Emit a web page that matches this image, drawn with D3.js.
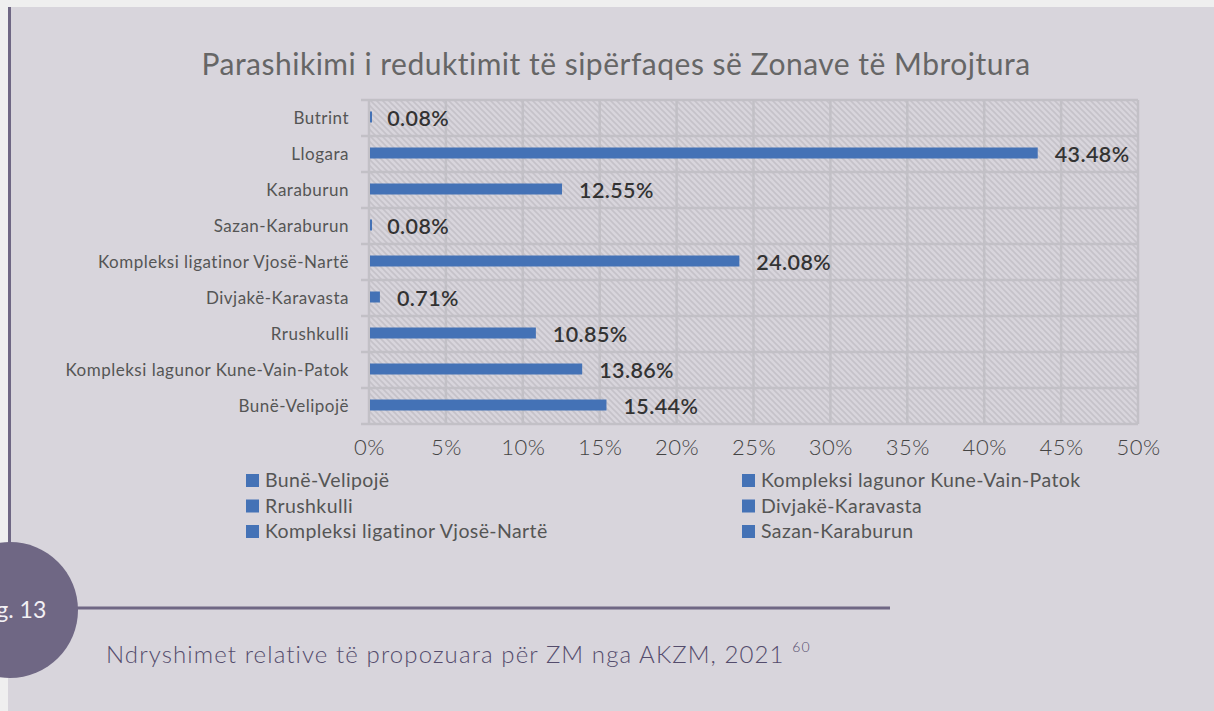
<!DOCTYPE html>
<html>
<head>
<meta charset="utf-8">
<script src="https://d3js.org/d3.v7.min.js"></script>
<style>
  body { margin: 0; background: #efefef; }
  svg { display: block; }
</style>
</head>
<body>
<div id="chart"></div>
<script>
// data, top row first
const categories = ["Butrint", "Llogara", "Karaburun", "Sazan-Karaburun",
  "Kompleksi ligatinor Vjosë-Nartë", "Divjakë-Karavasta", "Rrushkulli",
  "Kompleksi lagunor Kune-Vain-Patok", "Bunë-Velipojë"];
const values = [0.08, 43.48, 12.55, 0.08, 24.08, 0.71, 10.85, 13.86, 15.44];
const ticks = [0, 5, 10, 15, 20, 25, 30, 35, 40, 45, 50];
const legendItems = ["Bunë-Velipojë", "Kompleksi lagunor Kune-Vain-Patok",
  "Rrushkulli", "Divjakë-Karavasta",
  "Kompleksi ligatinor Vjosë-Nartë", "Sazan-Karaburun"];

const W = 1214, H = 711;
const blue = "#4472b6";
const font = "Lato, sans-serif";
const svg = d3.select("#chart").append("svg")
  .attr("width", W).attr("height", H);

// panel
svg.append("rect").attr("x", 8).attr("y", 7).attr("width", W - 8).attr("height", H - 7)
  .attr("fill", "#d8d5dc");
svg.append("rect").attr("x", 8).attr("y", 7).attr("width", 3).attr("height", 540)
  .attr("fill", "#6f6784");

// hatch pattern
const defs = svg.append("defs");
const pat = defs.append("pattern").attr("id", "hatch")
  .attr("patternUnits", "userSpaceOnUse").attr("width", 6).attr("height", 6);
pat.append("rect").attr("width", 6).attr("height", 6).attr("fill", "#d8d5dc");
pat.append("path").attr("d", "M-1,-1 L7,7 M-1,5 L1,7 M5,-1 L7,1")
  .attr("stroke", "#c5c2c9").attr("stroke-width", 1.6);

const x = d3.scaleLinear().domain([0, 50]).range([369, 1138]);
const y = d3.scaleBand().domain(categories).range([100, 424]);

// title
svg.append("text").attr("x", 616).attr("y", 75).attr("text-anchor", "middle")
  .attr("font-family", font).attr("font-size", 30).attr("letter-spacing", 0.5)
  .attr("fill", "#666").text("Parashikimi i reduktimit të sipërfaqes së Zonave të Mbrojtura");

// plot background
svg.append("rect").attr("x", x(0)).attr("y", 100)
  .attr("width", x(50) - x(0)).attr("height", 324).attr("fill", "url(#hatch)");

// grid
const grid = svg.append("g").attr("stroke", "#c2c0c6").attr("stroke-width", 2.5);
grid.selectAll("line.v").data(ticks).join("line")
  .attr("x1", d => x(d)).attr("x2", d => x(d)).attr("y1", 100).attr("y2", 424);
grid.selectAll("line.h").data(categories.concat(["end"])).join("line")
  .attr("x1", x(0) - 8).attr("x2", x(50))
  .attr("y1", (d, i) => 100 + i * y.step()).attr("y2", (d, i) => 100 + i * y.step());

// bars
const barH = 11;
svg.append("g").selectAll("rect").data(values).join("rect")
  .attr("x", x(0) + 1)
  .attr("y", (d, i) => y(categories[i]) + y.bandwidth() / 2 - barH / 2 - 1)
  .attr("width", d => Math.max(2, x(d) - x(0) - 1))
  .attr("height", barH).attr("fill", blue);

// value labels
svg.append("g").selectAll("text").data(values).join("text")
  .attr("x", d => x(d) + 17)
  .attr("y", (d, i) => y(categories[i]) + y.bandwidth() / 2 + 8)
  .attr("font-family", font).attr("font-size", 21.5).attr("font-weight", 600)
  .attr("letter-spacing", 0.4)
  .attr("fill", "#333").text(d => d.toFixed(2) + "%");

// category labels
svg.append("g").selectAll("text").data(categories).join("text")
  .attr("x", 349).attr("y", d => y(d) + y.bandwidth() / 2 + 6)
  .attr("text-anchor", "end")
  .attr("font-family", font).attr("font-size", 17).attr("letter-spacing", 0.5)
  .attr("fill", "#555").text(d => d);

// x axis tick labels
const xAxis = svg.append("g").attr("transform", "translate(0,424)")
  .call(d3.axisBottom(x).tickValues(ticks).tickSize(0).tickPadding(15)
    .tickFormat(d => d + "%"));
xAxis.select(".domain").remove();
xAxis.selectAll("text").attr("font-family", font).attr("font-weight", 300)
  .attr("font-size", 22).attr("letter-spacing", 0.5).attr("fill", "#444").attr("dy", "0.71em");

// legend
const leg = svg.append("g").selectAll("g").data(legendItems).join("g")
  .attr("transform", (d, i) => `translate(${i % 2 ? 742 : 246},${480 + Math.floor(i / 2) * 25.5})`);
leg.append("rect").attr("x", 0).attr("y", -6).attr("width", 13).attr("height", 13)
  .attr("fill", blue);
leg.append("text").attr("x", 19).attr("y", 7)
  .attr("font-family", font).attr("font-size", 19.5).attr("letter-spacing", 0.4)
  .attr("fill", "#555").text(d => d);

// figure badge and caption
svg.append("line").attr("x1", 70).attr("x2", 890).attr("y1", 608).attr("y2", 608)
  .attr("stroke", "#6f6784").attr("stroke-width", 3);
svg.append("circle").attr("cx", 10).attr("cy", 610).attr("r", 68).attr("fill", "#6f6784");
svg.append("text").attr("x", 12).attr("y", 618).attr("text-anchor", "middle")
  .attr("font-family", font).attr("font-size", 23)
  .attr("fill", "#f2f0f4").text("Fig. 13");
const cap = svg.append("text").attr("x", 106).attr("y", 663)
  .attr("font-family", font).attr("font-weight", 300).attr("font-size", 24)
  .attr("letter-spacing", 1.1).attr("fill", "#544c6c");
cap.append("tspan").text("Ndryshimet relative të propozuara për ZM nga AKZM, 2021 ");
cap.append("tspan").attr("font-size", 14).attr("dy", -11).text("60");
</script>
</body>
</html>
